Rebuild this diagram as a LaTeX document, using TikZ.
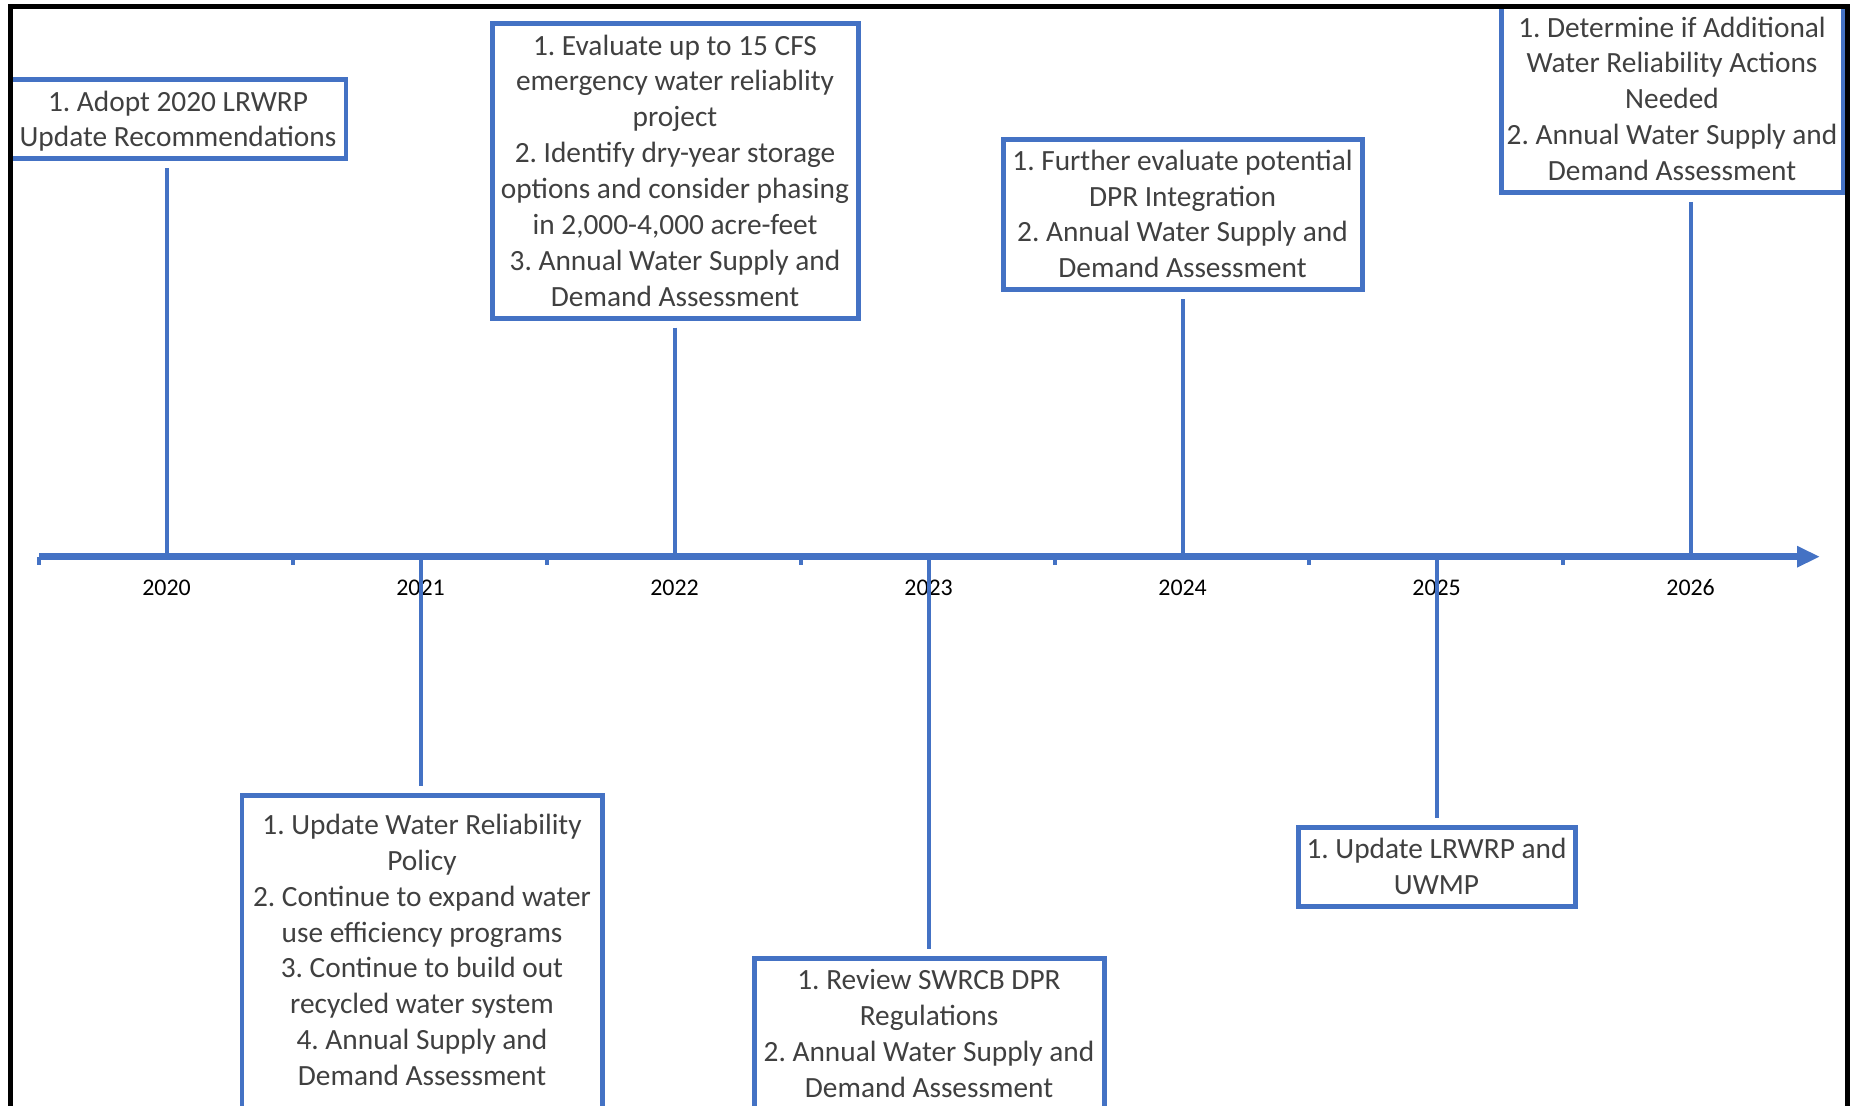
\documentclass[tikz,border=0pt]{standalone}
\usepackage{fontspec}
\setmainfont{Carlito}
\usepackage{tikz}
\usetikzlibrary{arrows.meta,positioning,calc}

\definecolor{lineblue}{HTML}{4472C4}
\definecolor{textgray}{HTML}{404040}

\begin{document}
\begin{tikzpicture}[
  every node/.style={font=\fontsize{8.35pt}{10.2pt}\selectfont\frenchspacing},
  goal/.style={draw=lineblue, line width=1.42pt, fill=white, text=textgray,
    align=flush center, inner xsep=0.05cm, inner ysep=0.06cm,
    execute at begin node=\strut,
    execute at end node={\rule[-0.06cm]{0pt}{0.1cm}}},
  stem/.style={draw=lineblue, line width=1.15pt},
  yearlbl/.style={font=\fontsize{6.8pt}{8pt}\selectfont, text=black, inner sep=0pt}]
\useasboundingbox (0,0) rectangle (18.53,11.05);
\clip (0,0) rectangle (18.53,11.05);
% years and half-year ticks
\foreach \yr [count=\i from 0] in {2020,...,2026} {
  \coordinate (t\yr) at (1.666+2.54*\i,5.483);
  \node[yearlbl] (y\yr) at (1.666+2.54*\i,5.17) {\yr};
  \draw[lineblue, line width=1.3pt] (0.39+2.54*\i,5.483) -- ++(0,-0.08);
}
\coordinate (a0) at (0.39,5.483);
\coordinate (a1) at (18.20,5.483);
% goals above the axis
\node[goal, text width=3.26cm, anchor=north] (b20) at (1.78,10.275)
  {1. Adopt 2020 LRWRP\\ Update Recommendations};
\node[goal, text width=3.56cm, anchor=north] (b22) at (6.75,10.835)
  {1. Evaluate up to 15 CFS\\ emergency water reliablity\\ project\\
   2. Identify dry-year storage\\ options and consider phasing\\
   in 2,000-4,000 acre-feet\\ 3. Annual Water Supply and\\ Demand Assessment};
\node[goal, text width=3.49cm, anchor=north] (b24) at (11.825,9.683)
  {1. Further evaluate potential\\ DPR Integration\\
   2. Annual Water Supply and\\ Demand Assessment};
\node[goal, text width=3.32cm, anchor=south] (b26) at (16.72,9.10)
  {1. Determine if Additional\\ Water Reliability Actions\\ Needed\\
   2. Annual Water Supply and\\ Demand Assessment};
% goals below the axis (run off the page)
\node[goal, text width=3.50cm, anchor=north, text height=0.33cm, text depth=3cm] (b21) at (4.22,3.12)
  {1. Update Water Reliability\\ Policy\\ 2. Continue to expand water\\
   use efficiency programs\\ 3. Continue to build out\\ recycled water system\\
   4. Annual Supply and\\ Demand Assessment};
\node[goal, text width=3.40cm, anchor=north, text depth=2cm] (b23) at (9.29,1.49)
  {1. Review SWRCB DPR\\ Regulations\\
   2. Annual Water Supply and\\ Demand Assessment};
\node[goal, text width=2.67cm, anchor=north] (b25) at (14.365,2.80)
  {1. Update LRWRP and\\ UWMP};
% stems to the axis
\draw[stem, shorten <=0.07cm] (b20.south -| t2020) -- (t2020);
\draw[stem, shorten <=0.07cm] (b22.south -| t2022) -- (t2022);
\draw[stem, shorten <=0.07cm] (b24.south -| t2024) -- (t2024);
\draw[stem, shorten <=0.07cm] (b26.south -| t2026) -- (t2026);
\draw[stem, shorten >=0.07cm] (t2021) -- (b21.north -| t2021);
\draw[stem, shorten >=0.07cm] (t2023) -- (b23.north -| t2023);
\draw[stem, shorten >=0.07cm] (t2025) -- (b25.north -| t2025);
% time axis
\draw[lineblue, line width=1.85pt, -{Triangle[length=0.23cm,width=0.2cm]}] (a0) -- (a1);
% page frame
\draw[black, line width=1.42pt] (0.103,-0.3) |- (18.47,10.98) -- (18.47,-0.3);
\end{tikzpicture}
\end{document}
